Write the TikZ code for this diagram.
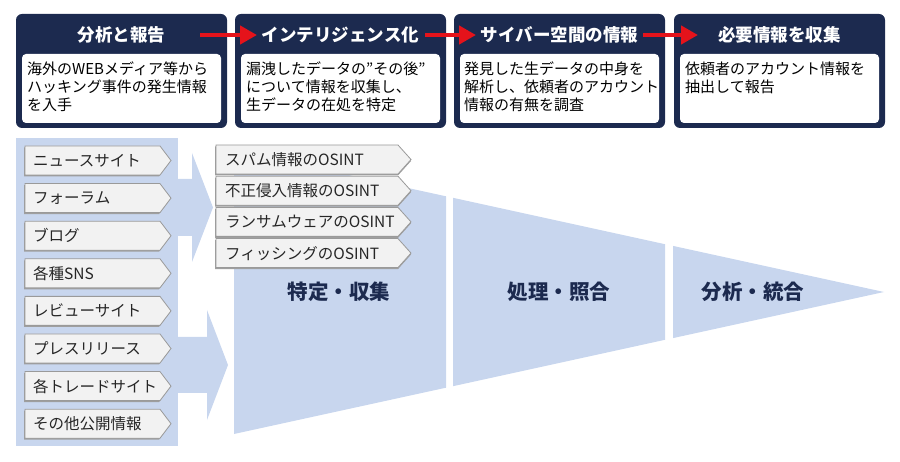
\documentclass[tikz,border=0pt]{standalone}
\usepackage{fontspec}
\setmainfont{Noto Sans CJK JP}
\usetikzlibrary{arrows.meta}

\definecolor{navy}{HTML}{1C2A4F}
\definecolor{paleblue}{HTML}{C8D6EE}
\definecolor{itemfill}{HTML}{F2F2F2}
\definecolor{itemline}{HTML}{9A9A9A}
\definecolor{arrowred}{HTML}{E5131B}

\tikzset{
	stagebox/.style={fill=navy, rounded corners=6pt},
	notebox/.style={fill=white, rounded corners=4pt},
	stagetitle/.style={text=white, font=\fontsize{17.5}{19}\selectfont\bfseries},
	notetext/.style={anchor=north west, align=left, inner sep=0pt, text=black,
		font=\fontsize{15}{18}\selectfont},
	srcshape/.style={fill=itemfill, draw=itemline, line width=0.8pt},
	srcshadow/.style={fill=gray!75},
	srctext/.style={anchor=west, inner sep=0pt, text=black!85,
		font=\fontsize{15.5}{17}\selectfont},
	flowlabel/.style={text=navy, font=\fontsize{20.5}{23}\selectfont\bfseries},
	redarrow/.style={draw=arrowred, line width=4.5pt,
		-{Triangle[length=17pt, width=18pt]}},
}

\begin{document}
\begin{tikzpicture}[x=1pt, y=-1pt]
	\useasboundingbox (0, 0) rectangle (900, 462);

	% stage boxes
	\foreach \x/\i in {16/1, 235/2, 454/3, 674/4} {
		\fill[stagebox] (\x, 14) rectangle ++(211, 114);
		\fill[notebox] (\x+6, 54) rectangle ++(199, 69);
	}

	\node[stagetitle] (t1) at (121.5, 35) {分析と報告};
	\node[stagetitle] (t2) at (340.5, 35) {インテリジェンス化};
	\node[stagetitle] (t3) at (559.5, 35) {サイバー空間の情報};
	\node[stagetitle] (t4) at (779.5, 35) {必要情報を収集};

	\node[notetext] (n1) at (27, 62) {海外のWEBメディア等から\\ハッキング事件の発生情報\\を入手};
	\node[notetext] (n2) at (246, 62) {漏洩したデータの”その後”\\について情報を収集し、\\生データの在処を特定};
	\node[notetext] (n3) at (464, 62) {発見した生データの中身を\\解析し、依頼者のアカウント\\情報の有無を調査};
	\node[notetext] (n4) at (685, 62) {依頼者のアカウント情報を\\抽出して報告};

	\coordinate (a1) at (200, 35);
	\coordinate (b1) at (257, 35);
	\coordinate (a2) at (425, 35);
	\coordinate (b2) at (476, 35);
	\coordinate (a3) at (643, 35);
	\coordinate (b3) at (698, 35);
	\draw[redarrow] (a1) -- (b1);
	\draw[redarrow] (a2) -- (b2);
	\draw[redarrow] (a3) -- (b3);

	% sources column and big arrows
	\fill[paleblue] (16, 138) rectangle (178, 446);
	\fill[paleblue] (178, 179) -- (192, 179) -- (192, 153) -- (213, 207.5)
		-- (192, 262) -- (192, 236) -- (178, 236) -- cycle;
	\fill[paleblue] (178, 337) -- (207, 337) -- (207, 310) -- (228, 365)
		-- (207, 420) -- (207, 393) -- (178, 393) -- cycle;

	% funnel
	\fill[paleblue] (234, 150) -- (446, 196.3) -- (446, 387.7) -- (234, 434) -- cycle;
	\fill[paleblue] (453, 197.8) -- (665, 244.2) -- (665, 339.8) -- (453, 386.2) -- cycle;
	\fill[paleblue] (673, 245.9) -- (884, 292) -- (673, 338.1) -- cycle;

	\node[flowlabel] (f1) at (339, 292) {特定・収集};
	\node[flowlabel] (f2) at (559, 292) {処理・照合};
	\node[flowlabel] (f3) at (753, 292) {分析・統合};

	% source items
	\foreach \t [count=\i] in {ニュースサイト, フォーラム, ブログ, 各種SNS,
		レビューサイト, プレスリリース, 各トレードサイト, その他公開情報} {
		\pgfmathsetmacro\y{146 + 37.6*(\i-1)}
		\fill[srcshadow] (24, \y+1.5) -- ++(135, 0) -- ++(11, 14.5) -- ++(-11, 14.5)
			-- ++(-135, 0) -- cycle;
		\draw[srcshape] (25, \y) -- ++(135, 0) -- ++(11, 14.5) -- ++(-11, 14.5)
			-- ++(-135, 0) -- cycle;
		\node[srctext] (s\i) at (33, \y+14.5) {\t};
	}

	% OSINT items
	\foreach \t [count=\i] in {スパム情報のOSINT, 不正侵入情報のOSINT,
		ランサムウェアのOSINT, フィッシングのOSINT} {
		\pgfmathsetmacro\y{145 + 31.2*(\i-1)}
		\fill[srcshadow] (215, \y+1.5) -- ++(183, 0) -- ++(13, 14.5) -- ++(-13, 14.5)
			-- ++(-183, 0) -- cycle;
		\draw[srcshape] (216, \y) -- ++(182, 0) -- ++(13, 14.5) -- ++(-13, 14.5)
			-- ++(-182, 0) -- cycle;
		\node[srctext] (o\i) at (225, \y+14.5) {\t};
	}
\end{tikzpicture}
\end{document}
